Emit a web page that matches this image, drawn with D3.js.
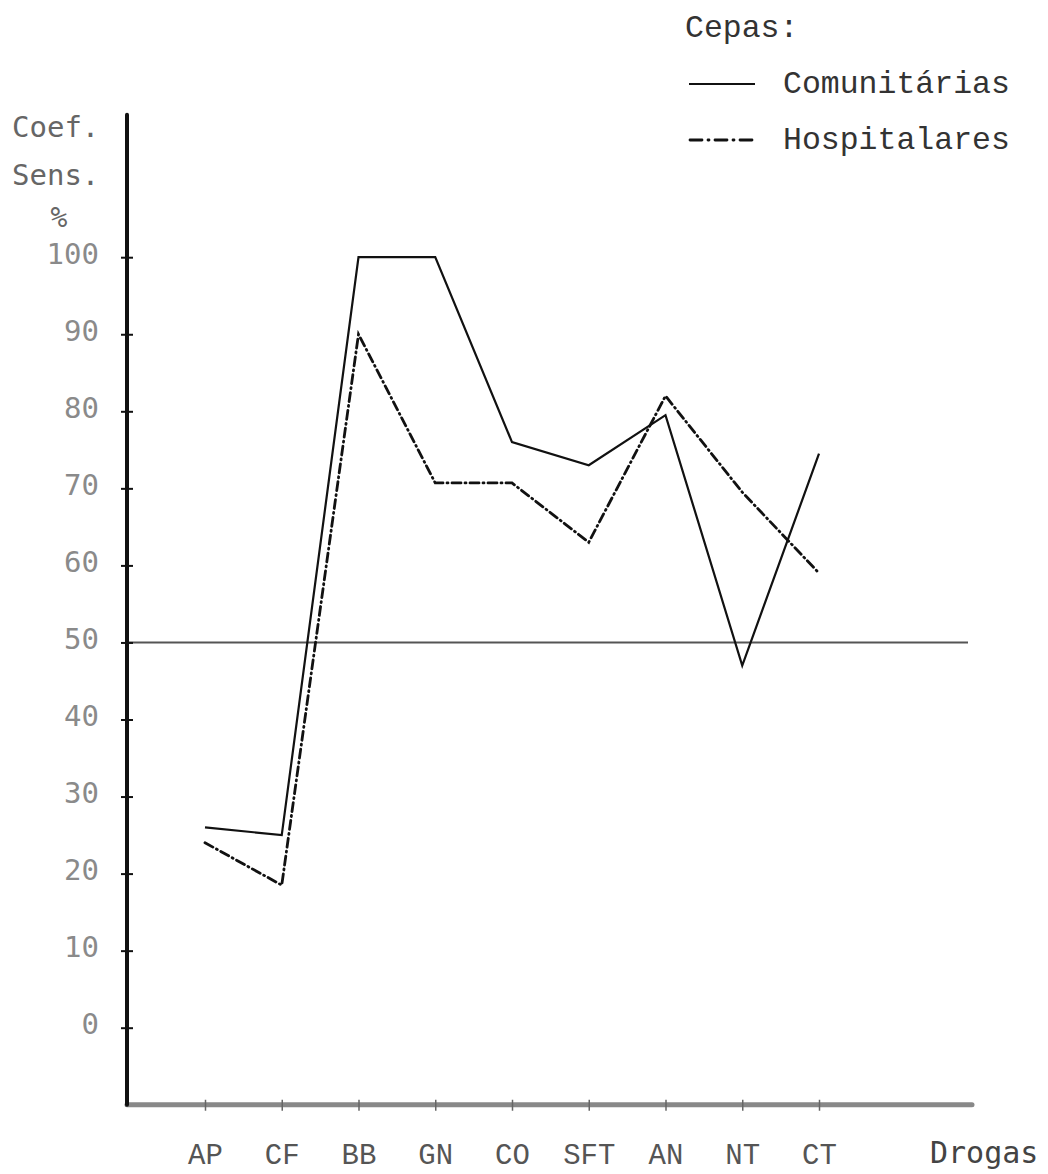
<!DOCTYPE html>
<html>
<head>
<meta charset="utf-8">
<script src="https://cdn.jsdelivr.net/npm/d3@7"></script>
<style>
  html, body { margin: 0; padding: 0; background: #fff; }
  svg { display: block; }
</style>
</head>
<body>
<svg id="chart" width="1048" height="1174"></svg>
<script>
// ---- data ----
const categories = ["AP", "CF", "BB", "GN", "CO", "SFT", "AN", "NT", "CT"];
const comunitarias = [26, 25, 100, 100, 76, 73, 79.5, 47, 74.5];
const hospitalares = [24, 18.5, 90, 70.7, 70.7, 63, 82, 69.5, 59];
const yTickValues = [0, 10, 20, 30, 40, 50, 60, 70, 80, 90, 100];
const referenceValue = 50;
const seriesNames = ["Comunitárias", "Hospitalares"];

// ---- layout ----
const svg = d3.select("#chart");
const axisX = 127;
const x = d3.scalePoint().domain(categories).range([205, 819]);
const y = d3.scaleLinear().domain([0, 100]).range([1027.7, 257.2]);
const yBottom = y(-10);
const yTop = y(118.5);
const xRight = 972;

const monoSans = "'DejaVu Sans Mono', monospace";
const monoSerif = "'Liberation Mono', 'Courier New', monospace";

// reference line at 50
svg.append("line")
  .attr("x1", axisX).attr("x2", 968)
  .attr("y1", y(referenceValue)).attr("y2", y(referenceValue))
  .attr("stroke", "#555").attr("stroke-width", 2);

// x axis
const xAxis = d3.axisBottom(x).tickSize(0).tickPadding(0);
const gx = svg.append("g").attr("transform", `translate(0,${yBottom})`).call(xAxis);
gx.select(".domain").remove();
gx.selectAll(".tick line").attr("y1", -5).attr("y2", 6).attr("stroke", "#666").attr("stroke-width", 1.5);
gx.selectAll(".tick text")
  .attr("y", 59).attr("dy", 0)
  .attr("font-family", monoSerif).attr("font-size", 29)
  .attr("fill", "#555");
svg.insert("line", "g")
  .attr("x1", axisX).attr("x2", xRight)
  .attr("y1", yBottom).attr("y2", yBottom)
  .attr("stroke", "#888").attr("stroke-width", 5).attr("stroke-linecap", "round");

// y axis
const yAxis = d3.axisLeft(y).tickValues(yTickValues).tickSize(0).tickPadding(0);
const gy = svg.append("g").attr("transform", `translate(${axisX},0)`).call(yAxis);
gy.select(".domain").remove();
gy.selectAll(".tick line").attr("x1", -6).attr("x2", 6).attr("stroke", "#111").attr("stroke-width", 2);
gy.selectAll(".tick text")
  .attr("x", -28).attr("dy", "0.2em")
  .attr("font-family", monoSans).attr("font-size", 29)
  .attr("fill", "#8a8a8a");
svg.append("line")
  .attr("x1", axisX).attr("x2", axisX)
  .attr("y1", yTop).attr("y2", yBottom)
  .attr("stroke", "#111").attr("stroke-width", 4).attr("stroke-linecap", "round");

// y axis title
const ytitle = svg.append("g").attr("font-family", monoSans).attr("font-size", 29).attr("fill", "#666");
ytitle.append("text").attr("x", 12).attr("y", 137).text("Coef.");
ytitle.append("text").attr("x", 12).attr("y", 185).text("Sens.");
ytitle.append("text").attr("x", 59).attr("y", 227).attr("text-anchor", "middle").attr("font-size", 28).text("%");

// x axis title
svg.append("text").attr("x", 930).attr("y", 1163)
  .attr("font-family", monoSans).attr("font-size", 30).attr("fill", "#444")
  .text("Drogas");

// series lines
const line = d3.line().x((d, i) => x(categories[i])).y(d => y(d));
svg.append("path").datum(comunitarias)
  .attr("d", line).attr("fill", "none")
  .attr("stroke", "#111").attr("stroke-width", 2.2).attr("stroke-linejoin", "miter");
const dashDot = "9,4,1,4";
svg.append("path").datum(hospitalares)
  .attr("d", line).attr("fill", "none")
  .attr("stroke", "#111").attr("stroke-width", 2.8)
  .attr("stroke-dasharray", dashDot).attr("stroke-linecap", "round");

// legend
const lg = svg.append("g").attr("font-family", monoSerif).attr("font-size", 31.5).attr("fill", "#333");
lg.append("text").attr("x", 685).attr("y", 37).text("Cepas:");
lg.append("line").attr("x1", 689).attr("x2", 755).attr("y1", 84).attr("y2", 84)
  .attr("stroke", "#111").attr("stroke-width", 2.2);
lg.append("text").attr("x", 783).attr("y", 93).text(seriesNames[0]);
lg.append("line").attr("x1", 690).attr("x2", 758).attr("y1", 140).attr("y2", 140)
  .attr("stroke", "#111").attr("stroke-width", 2.8)
  .attr("stroke-dasharray", "12,6,1,6").attr("stroke-linecap", "round");
lg.append("text").attr("x", 783).attr("y", 149).text(seriesNames[1]);
</script>
</body>
</html>
